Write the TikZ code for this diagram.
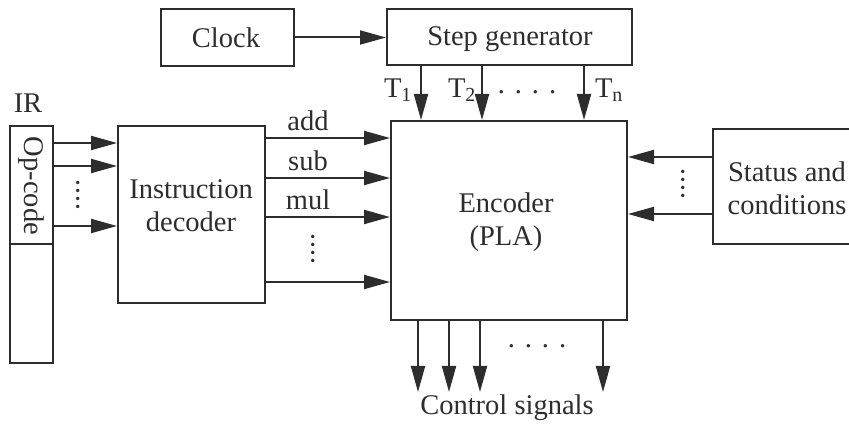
\documentclass[tikz,border=0pt]{standalone}
\usepackage{fontspec}
\setmainfont{Liberation Serif}
\usetikzlibrary{arrows.meta}
\definecolor{ink}{RGB}{45,45,45}
\tikzset{
  box/.style={draw=ink, line width=2pt, inner sep=0pt, fill=none},
  lbl/.style={text=ink, font=\fontsize{28.5}{33}\selectfont, align=center, inner sep=0pt},
  arr/.style={draw=ink, line width=2pt, -{Triangle[length=26pt,width=14pt]}},
  dots/.style={text=ink, font=\fontsize{28.5}{33}\selectfont, inner sep=0pt}
}
\begin{document}
\begin{tikzpicture}[x=1pt,y=-1pt]
\useasboundingbox (0,0) rectangle (849,430);
% boxes
\node[box, minimum width=133pt, minimum height=57pt] (clock) at (227.5,37.5) {};
\node[lbl] (clockt) at (226,38) {Clock};
\node[box, minimum width=245pt, minimum height=56pt] (step) at (509.5,37) {};
\node[lbl] (stept) at (510,39) {Step generator};
\node[box, minimum width=43pt, minimum height=237pt] (ir) at (31.5,244.5) {};
\coordinate (divy) at (0,244);
\draw[ink, line width=2pt] (ir.west |- divy) -- (ir.east |- divy);
\node[lbl, rotate=-90] (opc) at (31.5,186) {Op-code};
\node[lbl] (irl) at (28,103) {IR};
\node[box, minimum width=147pt, minimum height=177pt] (dec) at (191.5,214.5) {};
\node[lbl] (dect) at (191,206) {Instruction\\decoder};
\node[box, minimum width=236pt, minimum height=199pt] (enc) at (509,220.5) {};
\node[lbl] (enct) at (506,222) {Encoder\\(PLA)};
\node[box, minimum width=160pt, minimum height=115pt] (stat) at (793,186.5) {};
\node[lbl] (statt) at (787,188) {Status and\\conditions};
% clock -> step
\draw[arr] (clock.east) -- (clock.east -| step.west);
% T arrows
\coordinate (t1) at (421,0);
\coordinate (t2) at (482,0);
\coordinate (tn) at (584,0);
\draw[arr] (t1 |- step.south) -- (t1 |- enc.north);
\draw[arr] (t2 |- step.south) -- (t2 |- enc.north);
\draw[arr] (tn |- step.south) -- (tn |- enc.north);
\node[lbl] (T1) at (398,90) {T\textsubscript{1}};
\node[lbl] (T2) at (462,90) {T\textsubscript{2}};
\node[lbl] (Tn) at (609,90) {T\textsubscript{n}};
\node[dots] (tdots) at (527,92) {.\hspace{10pt}.\hspace{10pt}.\hspace{10pt}.};
% IR -> decoder
\coordinate (i1) at (0,143);
\coordinate (i2) at (0,166);
\coordinate (i3) at (0,226);
\draw[arr] (ir.east |- i1) -- (dec.west |- i1);
\draw[arr] (ir.east |- i2) -- (dec.west |- i2);
\draw[arr] (ir.east |- i3) -- (dec.west |- i3);
\node[dots, rotate=90] (idots) at (78,195) {.\hspace{1pt}.\hspace{1pt}.\hspace{1pt}.};
% decoder -> encoder
\coordinate (o1) at (0,138);
\coordinate (o2) at (0,178);
\coordinate (o3) at (0,217);
\coordinate (o4) at (0,282);
\draw[arr] (dec.east |- o1) -- (enc.west |- o1);
\draw[arr] (dec.east |- o2) -- (enc.west |- o2);
\draw[arr] (dec.east |- o3) -- (enc.west |- o3);
\draw[arr] (dec.east |- o4) -- (enc.west |- o4);
\node[lbl] (add) at (308,121) {add};
\node[lbl] (sub) at (308,161) {sub};
\node[lbl] (mul) at (308,200) {mul};
\node[dots, rotate=90] (odots) at (313,249) {.\hspace{1pt}.\hspace{1pt}.\hspace{1pt}.};
% status -> encoder
\coordinate (s1) at (0,157);
\coordinate (s2) at (0,214);
\draw[arr] (stat.west |- s1) -- (enc.east |- s1);
\draw[arr] (stat.west |- s2) -- (enc.east |- s2);
\node[dots, rotate=90] (sdots) at (683,184) {.\hspace{1pt}.\hspace{1pt}.\hspace{1pt}.};
% control signals
\coordinate (c1) at (418,0);
\coordinate (c2) at (449,0);
\coordinate (c3) at (480,0);
\coordinate (c4) at (603,0);
\coordinate (cb) at (0,392);
\draw[arr] (c1 |- enc.south) -- (c1 |- cb);
\draw[arr] (c2 |- enc.south) -- (c2 |- cb);
\draw[arr] (c3 |- enc.south) -- (c3 |- cb);
\draw[arr] (c4 |- enc.south) -- (c4 |- cb);
\node[dots] (cdots) at (537,346) {.\hspace{10pt}.\hspace{10pt}.\hspace{10pt}.};
\node[lbl] (ctrl) at (507,408) {Control signals};
\end{tikzpicture}
\end{document}
